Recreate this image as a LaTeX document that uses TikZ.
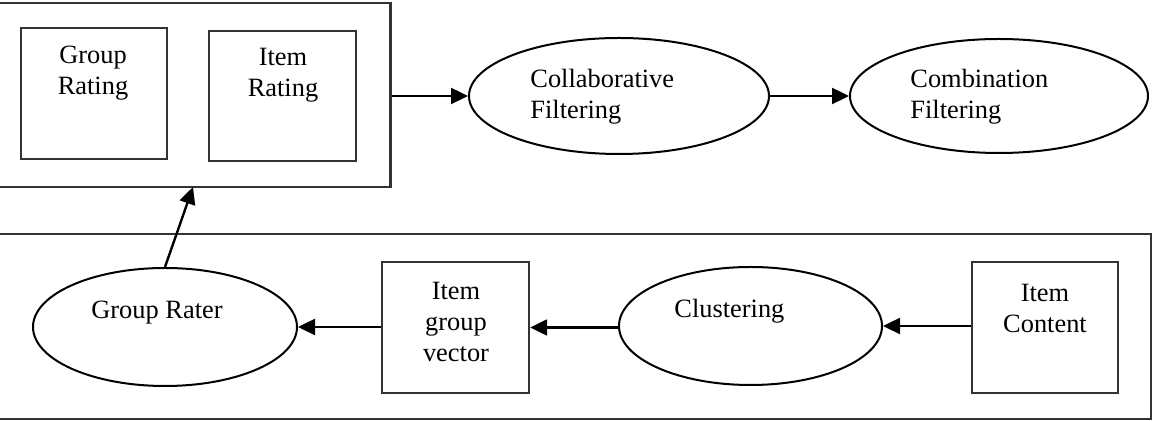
\documentclass[tikz,border=0pt]{standalone}
\usepackage{fontspec}
\setmainfont{Liberation Serif}
\usetikzlibrary{arrows.meta,shapes.geometric}
\begin{document}
\begin{tikzpicture}[x=0.5pt,y=-0.5pt,
  every node/.style={inner sep=0pt},
  frame/.style={draw=black!80,line width=1.2pt},
  boxnode/.style={draw=black!80,line width=1.2pt,rectangle,minimum width=73pt,minimum height=65.5pt},
  ellnode/.style={draw=black,line width=1pt,ellipse},
  txt/.style={font=\fontsize{13.2}{15.5}\selectfont,align=center},
  txtl/.style={font=\fontsize{13.2}{15.5}\selectfont,align=left},
  conn/.style={line width=1.2pt,-{Triangle[length=8.5pt,width=8pt]}}
]
\useasboundingbox (0,0) rectangle (1158,421);
% frames
\node[frame,rectangle,minimum width=199pt,minimum height=92pt] (topframe) at (191.5,95) {};
\node[frame,rectangle,minimum width=579pt,minimum height=92.5pt] (botframe) at (572,326.5) {};
% top boxes
\node[boxnode] (grating) at (94,93.5) {};
\node[txt] (gratingt) at (93,73) {Group\\Rating};
\node[boxnode,minimum width=73.5pt,minimum height=65pt] (irating) at (282.5,96) {};
\node[txt] (iratingt) at (283,75) {Item\\Rating};
% ellipses top
\node[ellnode,minimum width=150pt,minimum height=58pt] (collab) at (619,96) {};
\node[txtl,anchor=west] (collabt) at (530,97) {Collaborative\\Filtering};
\node[ellnode,minimum width=149pt,minimum height=57pt] (comb) at (999,96) {};
\node[txtl,anchor=west] (combt) at (910,97) {Combination\\Filtering};
% bottom
\node[ellnode,minimum width=132pt,minimum height=59pt] (grater) at (165,327) {};
\node[txt] (gratert) at (157,313) {Group Rater};
\node[boxnode,minimum width=73.5pt,minimum height=65.5pt] (igv) at (455.5,327.5) {};
\node[txt] (igvt) at (456,322) {Item\\group\\vector};
\node[ellnode,minimum width=131.5pt,minimum height=59pt] (clust) at (750.5,326) {};
\node[txtl,anchor=west] (clustt) at (674,311) {Clustering};
\node[boxnode,minimum width=73pt,minimum height=65.5pt] (icont) at (1045,327.5) {};
\node[txt] (icontt) at (1045,308) {Item\\Content};
% connectors
\draw[conn] (topframe.east |- collab.west) -- (collab.west);
\draw[conn] (collab.east) -- (comb.west |- collab.east);
\draw[conn] (icont.west |- clust.east) -- (clust.east);
\draw[conn] (clust.west |- igv.east) -- (igv.east);
\draw[conn] (igv.west |- grater.east) -- (grater.east);
\coordinate (uptarget) at (193,187);
\draw[conn] (grater.north) -- (uptarget);
\end{tikzpicture}
\end{document}
